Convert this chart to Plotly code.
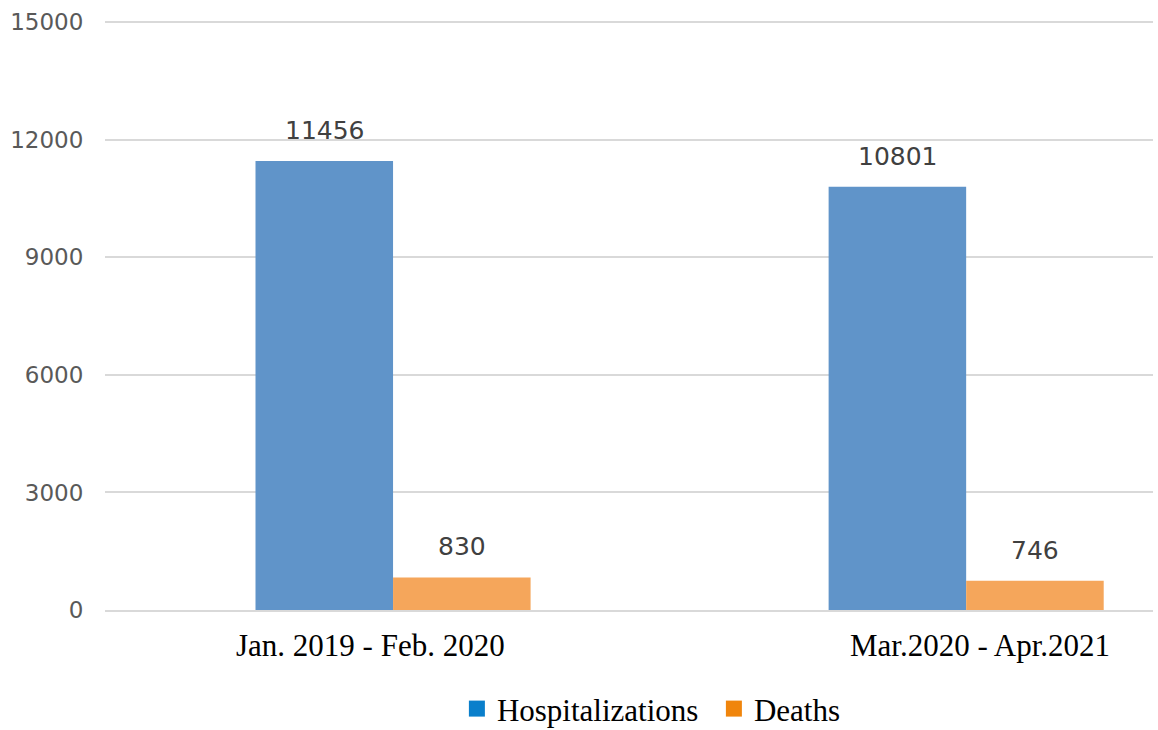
import plotly.graph_objects as go

categories = ["Jan. 2019 - Feb. 2020", "Mar.2020 - Apr.2021"]
hospitalizations = [11456, 10801]
deaths = [830, 746]
series_names = ["Hospitalizations", "Deaths"]
y_ticks = [0, 3000, 6000, 9000, 12000, 15000]

bar_colors = ["#6094c9", "#f5a65b"]
legend_colors = ["#0a7fcb", "#f0850c"]

x_idx = list(range(len(categories)))

fig = go.Figure()
for vals, name, col in zip([hospitalizations, deaths], series_names, bar_colors):
    fig.add_trace(go.Bar(x=x_idx, y=vals, name=name, marker_color=col,
                         marker_line_width=0, showlegend=False))
for name, col in zip(series_names, legend_colors):
    fig.add_trace(go.Scatter(x=[None], y=[None], mode="markers", name=name,
                             marker=dict(symbol="square", size=18, color=col)))

half_bar_px = 68.5
for vals, sign in zip([hospitalizations, deaths], [-1, 1]):
    for xi, v in zip(x_idx, vals):
        fig.add_annotation(x=xi, y=v, text=str(v), showarrow=False,
                           xshift=sign * half_bar_px, yshift=14, yanchor="bottom",
                           font=dict(family="DejaVu Sans", size=25, color="#404040"))

label_shifts = [-23, 14]
for xi, cat, sh in zip(x_idx, categories, label_shifts):
    fig.add_annotation(x=xi, y=0, yref="paper", text=cat, showarrow=False,
                       xshift=sh, yshift=-16, yanchor="top",
                       font=dict(family="Liberation Serif", size=31, color="#000000"))

fig.update_layout(
    width=1158, height=730,
    margin=dict(l=105, r=5, t=21, b=120, autoexpand=False),
    paper_bgcolor="white", plot_bgcolor="white",
    barmode="group", bargap=0.52, bargroupgap=0,
    legend=dict(orientation="h", x=0.581, xanchor="center", y=-0.168, yanchor="middle",
                entrywidth=212, entrywidthmode="pixels",
                font=dict(family="Liberation Serif", size=31, color="#000000")),
    xaxis=dict(tickmode="array", tickvals=x_idx, ticktext=["", ""],
               range=[-0.5026, 1.326], showgrid=False, zeroline=False,
               showline=True, linecolor="#d9d9d9", linewidth=2, ticks=""),
    yaxis=dict(range=[0, 15030], tickvals=y_ticks, tickformat="d", showgrid=True,
               gridcolor="#d9d9d9", gridwidth=2, zeroline=False, showline=False,
               ticks="outside", ticklen=16, tickcolor="rgba(0,0,0,0)",
               tickfont=dict(family="DejaVu Sans", size=23, color="#595959")),
)

fig.write_html("out.html")
